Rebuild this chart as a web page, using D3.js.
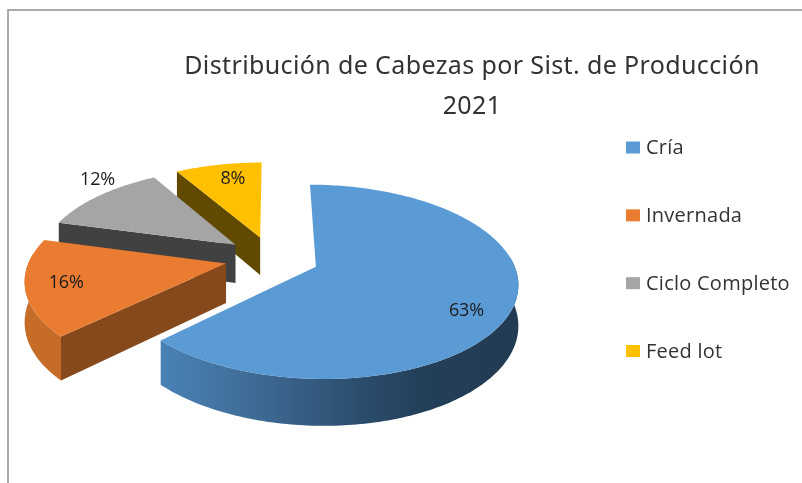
<!DOCTYPE html>
<html><head><meta charset="utf-8">
<style>html,body{margin:0;padding:0;background:#fff;overflow:hidden}svg{display:block;filter:blur(.55px)}</style>
<script src="https://cdn.jsdelivr.net/npm/d3@7/dist/d3.min.js"></script>
</head><body><svg id="c" width="802" height="483"></svg>
<script>
const titleLines = ["Distribución de Cabezas por Sist. de Producción", "2021"];
const categories = ["Cría", "Invernada", "Ciclo Completo", "Feed lot"];
const values = [62.8, 16.4, 12.4, 8.4];
const colors = ["#5B9BD5", "#E97C30", "#A5A5A5", "#FFC000"];
const wallColors = ["#3F6E9B", "#85491C", "#414141", "#614900"];
const rimColors = [null, "#C56C29", "#6e6e6e", "#8f7000"];
const labelFrac = [0.81, 0.80, 1.19, 0.80];
const labelTurn = [8, 1, 8, 3];

const W = 802, H = 483;
const cx = 272, cy = 258, R = 196, explode = 47, k = 0.47, q = 0.00078, depth = 39;
const svg = d3.select("#c");
const defs = svg.append("defs");

const grad = defs.append("linearGradient").attr("id","blueRim")
  .attr("gradientUnits","userSpaceOnUse").attr("x1",160).attr("x2",520).attr("y1",0).attr("y2",0);
[[0,"#4A82B6"],[0.22,"#416F9B"],[0.5,"#2F5375"],[0.72,"#243F5A"],[1,"#223B52"]]
  .forEach(s=>grad.append("stop").attr("offset",s[0]).attr("stop-color",s[1]));

svg.append("path").attr("d",`M${W},10H8V${H}`).attr("fill","none").attr("stroke","#ABABAB").attr("stroke-width",2);

const pie = d3.pie().sort(null).startAngle(0).endAngle(2*Math.PI);
const arcs = pie(values);

function project(X, Y, z) {
  const f = 1/(1 - q*Y);
  return [cx + X*f, cy + (Y*k + (z||0))*f];
}
function polar(a, r, mid, z) {
  const X = Math.sin(mid)*explode + Math.sin(a)*r;
  const Y = -Math.cos(mid)*explode - Math.cos(a)*r;
  return project(X, Y, z);
}
const line = d3.line();
const g = svg.append("g");

// back to front
d3.range(arcs.length-1,-1,-1).forEach(i=>{
  const d = arcs[i], mid = (d.startAngle+d.endAngle)/2;
  const angs = d3.range(d.startAngle, d.endAngle, Math.PI/180).concat([d.endAngle]);
  const topRim = angs.map(a=>polar(a,R,mid,0));
  const apexT = polar(0,0,mid,0), apexB = polar(0,0,mid,depth);
  // outer wall: only the part that faces the viewer
  const front = angs.filter(a=>-Math.cos(a) > -0.12);
  if (front.length > 1) {
    const t = front.map(a=>polar(a,R,mid,0)), b = front.map(a=>polar(a,R,mid,depth));
    g.append("path").attr("d", line(t.concat(b.slice().reverse()))+"Z")
      .attr("fill", i===0 ? "url(#blueRim)" : rimColors[i]);
  }
  // radial wall at the start of the slice, visible for slices on the left
  if (d.startAngle > Math.PI) {
    g.append("path").attr("d", line([apexT, topRim[0], polar(d.startAngle,R,mid,depth), apexB])+"Z").attr("fill", wallColors[i]);
  }
  // top face
  g.append("path").attr("d", line([apexT].concat(topRim))+"Z").attr("fill", colors[i]);
});

// data labels
arcs.forEach((d,i)=>{
  const mid = (d.startAngle+d.endAngle)/2;
  const p = polar(mid + labelTurn[i]*Math.PI/180, R*labelFrac[i], mid, 0);
  svg.append("text").attr("x",p[0]).attr("y",p[1]+6.5).attr("text-anchor","middle")
    .attr("font-family","'Open Sans',sans-serif").attr("font-size",18).attr("letter-spacing",-0.1).attr("fill","#1c1c1c")
    .text(Math.round(d.value)+"%");
});

// title
titleLines.forEach((t,i)=>{
  svg.append("text").attr("x",472).attr("y",74+i*40).attr("text-anchor","middle")
    .attr("font-family","'Noto Sans',sans-serif").attr("font-size",25).attr("letter-spacing",0.38).attr("fill","#333")
    .text(t);
});

// legend
const ly = d3.scalePoint().domain(categories).range([147.5,351]);
categories.forEach((c,i)=>{
  svg.append("rect").attr("x",626).attr("y",ly(c)-6).attr("width",14).attr("height",12).attr("fill",colors[i]);
  svg.append("text").attr("x",646).attr("y",ly(c)+6.5).attr("font-family","'Open Sans',sans-serif")
    .attr("font-size",20).attr("letter-spacing",0.25).attr("fill","#333").text(c);
});
</script></body></html>
